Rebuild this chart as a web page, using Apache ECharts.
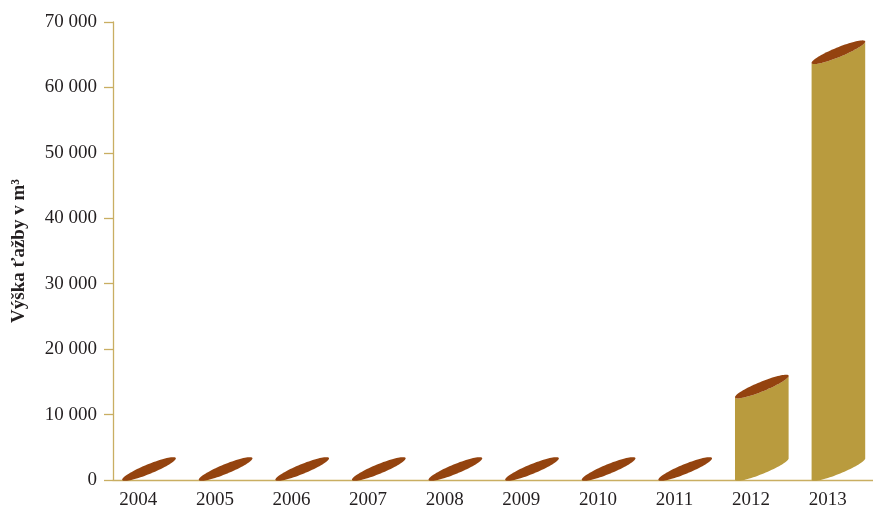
<!DOCTYPE html>
<html>
<head>
<meta charset="utf-8">
<script src="https://cdn.jsdelivr.net/npm/echarts@6/dist/echarts.min.js"></script>
<style>html,body{margin:0;padding:0;background:#fff}#c{width:873px;height:509px}</style>
</head>
<body>
<div id="c"></div>
<script>
const years = ['2004','2005','2006','2007','2008','2009','2010','2011','2012','2013'];
const volumes = [0, 0, 0, 0, 0, 0, 0, 0, 12600, 63700];
const yTickLabels = ['0','10 000','20 000','30 000','40 000','50 000','60 000','70 000'];
const yAxisTitle = 'Výška ťažby v m³';

const FONT = '"Liberation Serif","Times New Roman",serif';
const BODY = '#b99b3e';
const TOP = '#94430f';
const AXIS = '#c9ae62';
const TEXT = '#231f20';

function ellipsePts(xl, xr, yL, dy, b, t0, t1, n) {
  const cx = (xl + xr) / 2, cy = yL - dy / 2;
  const ax = (xr - xl) / 2, ay = -dy / 2;
  const len = Math.sqrt((xr - xl) * (xr - xl) + dy * dy);
  const bx = b * dy / len, by = b * (xr - xl) / len;
  const pts = [];
  for (let i = 0; i <= n; i++) {
    const t = t0 + (t1 - t0) * i / n;
    pts.push([cx + Math.cos(t) * ax + Math.sin(t) * bx, cy + Math.cos(t) * ay + Math.sin(t) * by]);
  }
  return pts;
}

function renderItem(params, api) {
  const idx = api.value(0), val = api.value(1);
  const base = api.coord([idx, 0]);
  const top = api.coord([idx, val]);
  const x = base[0] - 2.3;
  const y0 = base[1], y1 = top[1];
  const w = api.size([1, 0])[0] * 0.7;
  const xl = x - w / 2, xr = x + w / 2;
  const dy = w * 0.41;
  const b = 4.8;
  const children = [];
  if (val > 0) {
    let pts = [[xl, y1], [xl, y0]];
    pts = pts.concat(ellipsePts(xl, xr, y0, dy, b, Math.PI, 0, 40));
    pts.push([xr, y1 - dy]);
    pts = pts.concat(ellipsePts(xl, xr, y1, dy, b, 0, Math.PI, 40));
    children.push({ type: 'polygon', shape: { points: pts }, style: { fill: BODY } });
  }
  children.push({
    type: 'polygon',
    shape: { points: ellipsePts(xl, xr, y1, dy, b, 0, Math.PI * 2, 80) },
    style: { fill: TOP }
  });
  return { type: 'group', children: children };
}

const chart = echarts.init(document.getElementById('c'));
chart.setOption({
  animation: false,
  backgroundColor: '#fff',
  grid: { left: 113, width: 766, top: 22, bottom: 29, containLabel: false, outerBoundsMode: 'none' },
  xAxis: {
    type: 'category',
    data: years,
    axisLine: { lineStyle: { color: AXIS, width: 1.3 } },
    axisTick: { show: false },
    axisLabel: { color: TEXT, fontFamily: FONT, fontSize: 19, margin: 11, padding: [0, 26, 0, 0] },
    splitLine: { show: false }
  },
  yAxis: {
    type: 'value',
    min: 0, max: 70000, interval: 10000,
    name: yAxisTitle,
    nameLocation: 'middle',
    nameGap: 84,
    nameTextStyle: { color: TEXT, fontFamily: FONT, fontSize: 19, fontWeight: 'bold' },
    axisLine: { show: true, lineStyle: { color: AXIS, width: 1.3 } },
    axisTick: { show: true, length: 9, lineStyle: { color: AXIS, width: 1.3 } },
    axisLabel: {
      color: TEXT, fontFamily: FONT, fontSize: 19, margin: 16,
      formatter: function (v) { return yTickLabels[Math.round(v / 10000)]; }
    },
    splitLine: { show: false }
  },
  series: [{
    type: 'custom',
    renderItem: renderItem,
    encode: { x: 0, y: 1 },
    data: years.map((y, i) => [i, volumes[i]])
  }]
});
</script>
</body>
</html>
